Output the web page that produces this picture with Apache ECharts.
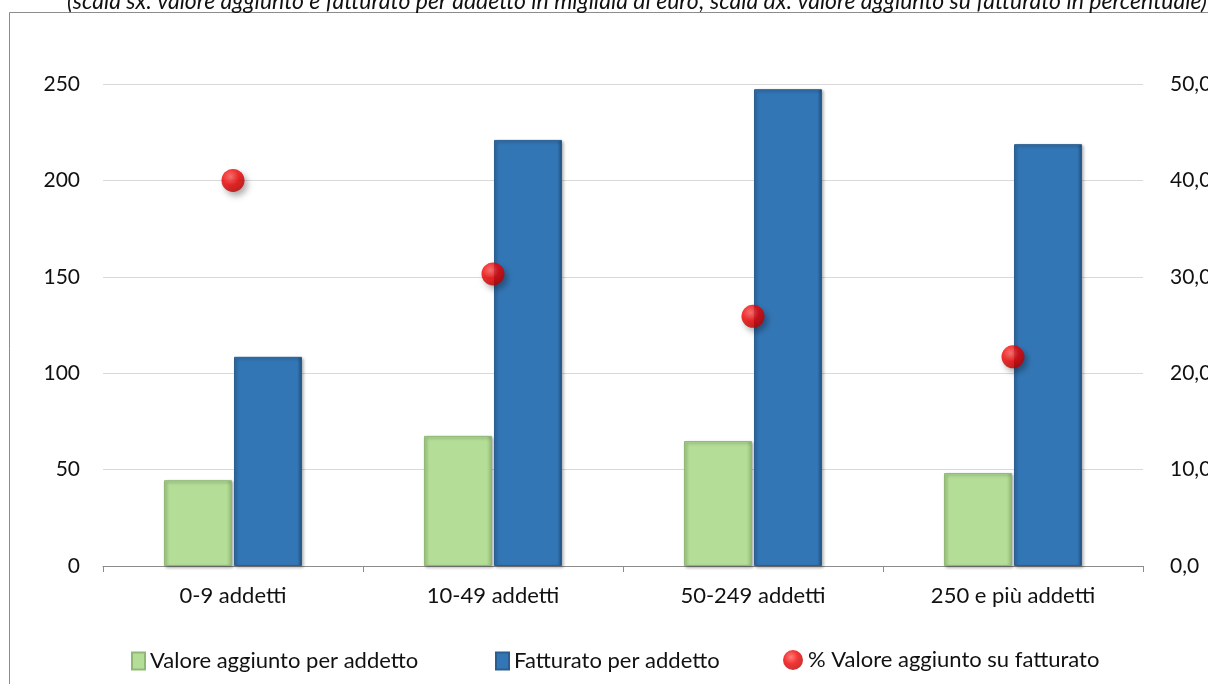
<!DOCTYPE html>
<html>
<head>
<meta charset="utf-8">
<script src="https://cdn.jsdelivr.net/npm/echarts@6/dist/echarts.min.js"></script>
<style>
html,body{margin:0;padding:0;background:#fff;}
#c{width:1208px;height:684px;}
</style>
</head>
<body>
<div id="c"></div>
<script>
const categories = ['0-9 addetti', '10-49 addetti', '50-249 addetti', '250 e più addetti'];
const valoreAggiunto = [44.5, 67.5, 64.8, 48.2];
const fatturato = [108.5, 221, 247.3, 218.8];
const percentuale = [40.0, 30.3, 25.9, 21.7];
const leftTicks = { min: 0, max: 250, interval: 50 };
const rightTicks = { min: 0, max: 50, interval: 10 };
const seriesNames = ['Valore aggiunto per addetto', 'Fatturato per addetto', '% Valore aggiunto su fatturato'];
const titleText = '(scala sx: valore aggiunto e fatturato per addetto in migliaia di euro; scala dx: valore aggiunto su fatturato in percentuale)';

const FONT = 'Lato';
const chart = echarts.init(document.getElementById('c'), null, { renderer: 'canvas' });

const greenColor = new echarts.graphic.LinearGradient(0, 0, 1, 0, [
  { offset: 0, color: '#a9d48a' },
  { offset: 0.08, color: '#b4de97' },
  { offset: 0.92, color: '#b4de97' },
  { offset: 1, color: '#93bb77' }
]);
const blueColor = new echarts.graphic.LinearGradient(0, 0, 1, 0, [
  { offset: 0, color: '#2f6fab' },
  { offset: 0.06, color: '#3376b6' },
  { offset: 0.93, color: '#3376b6' },
  { offset: 1, color: '#1f4f7e' }
]);
const redColor = new echarts.graphic.RadialGradient(0.4, 0.35, 0.7, [
  { offset: 0, color: '#ff5a5a' },
  { offset: 0.5, color: '#f00000' },
  { offset: 1, color: '#b40000' }
]);

const legendCommon = {
  top: 645,
  itemWidth: 13,
  itemHeight: 17,
  textStyle: { fontFamily: FONT, fontSize: 22, color: '#111' },
  selectedMode: false,
  itemGap: 0
};

const option = {
  animation: false,
  backgroundColor: '#fff',
  textStyle: { fontFamily: FONT },
  graphic: [
    {
      type: 'rect',
      shape: { x: 9.5, y: 12.5, width: 1300, height: 800 },
      style: { fill: 'none', stroke: '#8c8c8c', lineWidth: 1 },
      silent: true,
      z: -10
    },
    {
      type: 'text',
      left: 67,
      top: -10,
      style: {
        text: titleText,
        font: 'italic 23px Lato',
        fill: '#111'
      },
      silent: true
    }
  ],
  legend: [
    Object.assign({}, legendCommon, { left: 126, data: [{ name: seriesNames[0], icon: 'rect' }] }),
    Object.assign({}, legendCommon, { left: 490, data: [{ name: seriesNames[1], icon: 'rect' }] }),
    Object.assign({}, legendCommon, { left: 778, itemWidth: 20, itemHeight: 20, top: 644, data: [{ name: seriesNames[2], icon: 'circle' }] })
  ],
  grid: { left: 103, right: 65, top: 84, bottom: 118, containLabel: false, outerBoundsMode: 'none' },
  xAxis: {
    type: 'category',
    data: categories,
    boundaryGap: true,
    axisLine: { lineStyle: { color: '#8c8c8c', width: 1 } },
    axisTick: { show: true, alignWithLabel: false, length: 6, lineStyle: { color: '#8c8c8c' } },
    axisLabel: { color: '#111', fontFamily: FONT, fontSize: 22, margin: 19 }
  },
  yAxis: [
    {
      type: 'value',
      min: leftTicks.min, max: leftTicks.max, interval: leftTicks.interval,
      axisLine: { show: false },
      axisTick: { show: false },
      splitLine: { lineStyle: { color: '#d9d9d9', width: 1 } },
      axisLabel: { color: '#111', fontFamily: FONT, fontSize: 21, margin: 23 }
    },
    {
      type: 'value',
      min: rightTicks.min, max: rightTicks.max, interval: rightTicks.interval,
      axisLine: { show: false },
      axisTick: { show: false },
      splitLine: { show: false },
      axisLabel: {
        color: '#111', fontFamily: FONT, fontSize: 21, margin: 27,
        formatter: v => v.toFixed(1).replace('.', ',')
      }
    }
  ],
  series: [
    {
      name: seriesNames[0],
      type: 'bar',
      data: valoreAggiunto,
      barWidth: 68,
      barGap: '3%',
      itemStyle: {
        color: greenColor,
        borderColor: '#8fb874',
        borderWidth: 1,
        shadowColor: 'rgba(0,0,0,0.35)',
        shadowBlur: 3,
        shadowOffsetX: 1.5,
        shadowOffsetY: 1.5
      }
    },
    {
      name: seriesNames[1],
      type: 'bar',
      data: fatturato,
      barWidth: 68,
      itemStyle: {
        color: blueColor,
        borderColor: '#2a5e8f',
        borderWidth: 1,
        shadowColor: 'rgba(0,0,0,0.35)',
        shadowBlur: 3,
        shadowOffsetX: 1.5,
        shadowOffsetY: 1.5
      }
    },
    {
      name: seriesNames[2],
      type: 'scatter',
      yAxisIndex: 1,
      data: percentuale,
      symbol: 'circle',
      symbolSize: 23,
      itemStyle: {
        color: redColor,
        shadowColor: 'rgba(0,0,0,0.4)',
        shadowBlur: 6,
        shadowOffsetX: 3,
        shadowOffsetY: 4
      },
      z: 5
    }
  ]
};
chart.setOption(option);
</script>
</body>
</html>
